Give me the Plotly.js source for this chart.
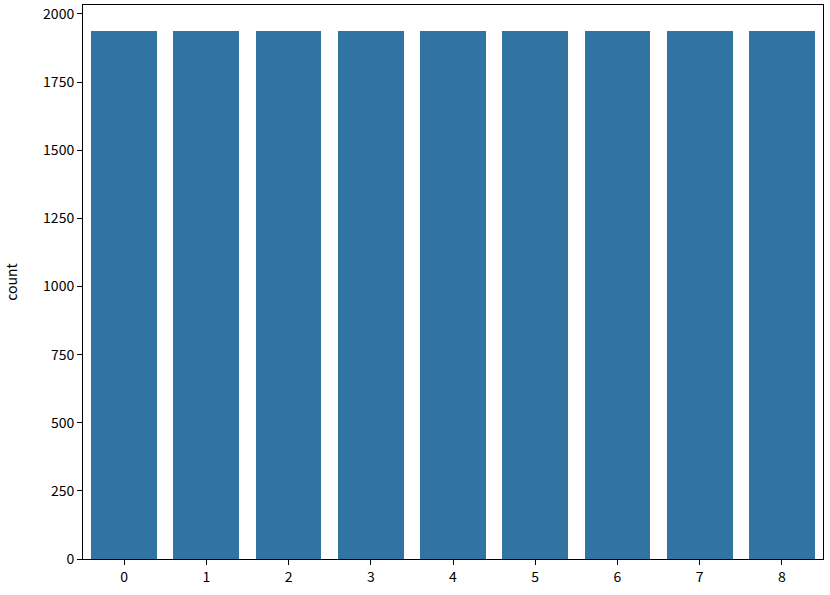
<!DOCTYPE html>
<html><head><meta charset="utf-8">
<script src="https://cdn.plot.ly/plotly-3.0.1.min.js"></script>
<style>html,body{margin:0;padding:0;background:#fff;}#c{width:830px;height:595px;}</style>
</head><body><div id="c"></div>
<script>
const categories = ['0','1','2','3','4','5','6','7','8'];
const counts = [1937,1937,1937,1937,1937,1937,1937,1937,1937];
const yTicks = [0,250,500,750,1000,1250,1500,1750,2000];

Plotly.newPlot('c', [{
  type: 'bar', x: categories.map(Number), y: counts,
  width: 0.8, marker: {color: '#3274a1', line: {width: 0}}, hoverinfo: 'none'
}], {
  width: 830, height: 595,
  margin: {l: 83, r: 7, t: 5, b: 36},
  paper_bgcolor: '#fff', plot_bgcolor: '#fff',
  font: {family: '"Noto Sans CJK SC", "DejaVu Sans", sans-serif', size: 14, color: '#000'},
  showlegend: false,
  bargap: 0,
  xaxis: {range: [-0.5, 8.5], tickvals: categories.map(Number), ticktext: categories,
    ticks: 'outside', ticklen: 5, tickwidth: 1, tickcolor: '#000',
    showline: true, linecolor: '#000', linewidth: 1, mirror: true, showgrid: false, zeroline: false},
  yaxis: {range: [0, 2033], tickvals: yTicks, ticktext: yTicks.map(String),
    ticks: 'outside', ticklen: 5, tickwidth: 1, tickcolor: '#000',
    showline: true, linecolor: '#000', linewidth: 1, mirror: true, showgrid: false, zeroline: false,
    title: {text: 'count', standoff: 22, font: {size: 14}}}
}, {staticPlot: true});
</script></body></html>
